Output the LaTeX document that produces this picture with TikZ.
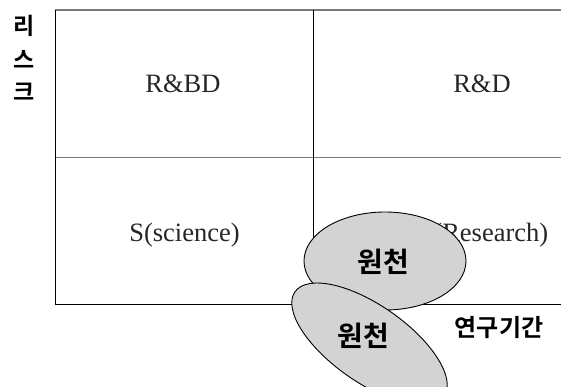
\documentclass[tikz,border=0pt]{standalone}
\usepackage{fontspec}
\setmainfont{Liberation Serif}
\newfontfamily\kofont{Noto Sans CJK KR}[BoldFont={* Bold}]
\usetikzlibrary{shapes.geometric}
\definecolor{gridgray}{HTML}{7A7A7A}
\definecolor{blobfill}{HTML}{D3D3D3}
\definecolor{celltext}{HTML}{262626}
\tikzset{
  cellword/.style={font=\fontsize{26.5}{30}\selectfont, text=celltext, inner sep=0pt, anchor=base},
  axisword/.style={font=\kofont\bfseries\fontsize{23}{25}\selectfont, inner sep=0pt},
  periodword/.style={font=\kofont\bfseries\fontsize{24}{26}\selectfont, inner sep=0pt},
  blob/.style={ellipse, draw=black, line width=0.9pt, fill=blobfill, inner sep=0pt},
  blobword/.style={font=\kofont\bfseries\fontsize{28}{30}\selectfont, inner sep=0pt},
  hline/.style={gridgray, line width=1.1pt},
  vline/.style={black, line width=1pt}
}
\begin{document}
\begin{tikzpicture}[x=1pt,y=-1pt]
\useasboundingbox[fill=white] (0,0) rectangle (561,387);

% grid corners
\coordinate (tl) at (55,10);
\coordinate (tm) at (313,10);
\coordinate (tr) at (561,10);
\coordinate (ml) at (55,157.5);
\coordinate (mr) at (561,157.5);
\coordinate (bl) at (55,304);
\coordinate (bm) at (313,304);
\coordinate (br) at (561,304);

% grid lines
\draw[hline] (tl) -- (tr);
\draw[hline] (ml) -- (mr);
\draw[vline] (tl) -- (bl);
\draw[vline] (tm) -- (bm);
\draw[vline] (bl) -- (br);

% cell labels
\node[cellword] (rbd) at (183,93) {R\&BD};
\node[cellword] (rd) at (482,93) {R\&D};
\node[cellword] (sci) at (184.5,241) {S(science)};
\node[cellword] (res) at (482,241) {R(Research)};

% axis labels
\node[axisword] (ri) at (24,26) {리};
\node[axisword] (seu) at (24,59) {스};
\node[axisword] (keu) at (24,92) {크};
\node[periodword] (period) at (499,328) {연구기간};

% source blobs
\node[blob, minimum width=162pt, minimum height=98pt] (blobA) at (385,261) {};
\node[blobword] (srcA) at (383,262) {원천};
\node[blob, minimum width=182pt, minimum height=77pt, rotate=-35] (blobB) at (369.5,344) {};
\node[blobword] (srcB) at (363,336) {원천};
\end{tikzpicture}
\end{document}
